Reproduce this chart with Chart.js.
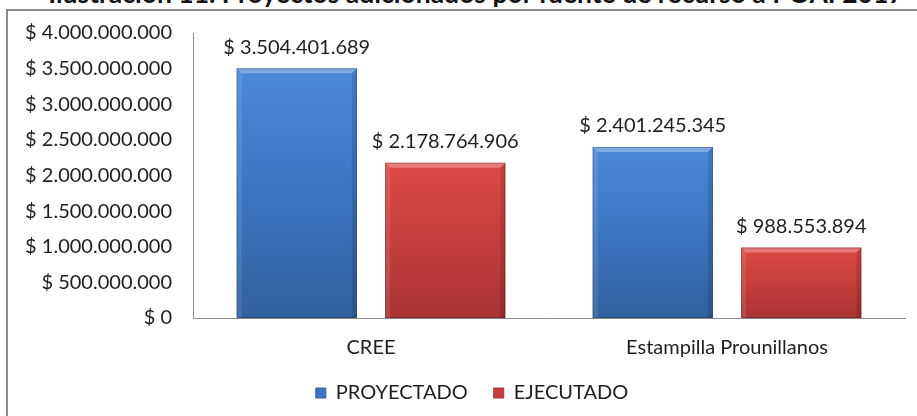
<!DOCTYPE html>
<html>
<head>
<meta charset="utf-8">
<script src="https://cdn.jsdelivr.net/npm/chart.js@4.4.1/dist/chart.umd.min.js"></script>
<style>
  html, body { margin: 0; padding: 0; background: #fff; overflow: hidden; }
  #wrap { position: relative; width: 917px; height: 416px; overflow: hidden; }
  #titulo {
    position: absolute; left: 0; width: 952px; top: -20px; text-align: center;
    font: bold 26.5px/26.5px Lato, sans-serif; color: #111; white-space: nowrap;
  }
  #marco {
    position: absolute; left: 6px; top: 9px; width: 960px; height: 460px;
    border: 2px solid #8a8a8a; box-sizing: border-box;
  }
  #lienzo { position: absolute; left: 0; top: 0; }
</style>
</head>
<body>
<div id="wrap">
  <div id="titulo">Ilustración 11. Proyectos adicionados por fuente de recurso a POAI 2017</div>
  <div id="marco"></div>
  <canvas id="lienzo" width="917" height="416"></canvas>
</div>
<script>
// datos
const categorias = ['CREE', 'Estampilla Prounillanos'];
const proyectado = [3504401689, 2401245345];
const ejecutado = [2178764906, 988553894];
const nombresSeries = ['PROYECTADO', 'EJECUTADO'];
const ejeMax = 4000000000;
const ejePaso = 500000000;

// colores de cada serie: claro, medio, oscuro
const coloresAzul = ['#4b8ad8', '#3d75c0', '#32609f'];
const coloresRojo = ['#dd4a46', '#c63e3b', '#a83433'];

function pesos(n) {
  return '$ ' + Math.round(n).toString().replace(/\B(?=(\d{3})+(?!\d))/g, '.');
}

// degradado vertical por barra, calculado con la escala y
function rellenoBarra(c, col) {
  const chart = c.chart;
  if (!chart.chartArea || c.type !== 'data') return col[1];
  const y = chart.scales.y;
  const arriba = y.getPixelForValue(c.raw);
  const abajo = y.getPixelForValue(0);
  const g = chart.ctx.createLinearGradient(0, arriba, 0, abajo);
  g.addColorStop(0, col[0]);
  g.addColorStop(0.5, col[1]);
  g.addColorStop(1, col[2]);
  return g;
}

// bisel suave en los bordes de cada barra
const biselPlugin = {
  id: 'bisel',
  afterDatasetsDraw(chart) {
    const ctx = chart.ctx;
    chart.data.datasets.forEach((ds, i) => {
      chart.getDatasetMeta(i).data.forEach(bar => {
        const l = bar.x - bar.width / 2, r = bar.x + bar.width / 2;
        const t = bar.y, b = bar.base, k = 5;
        ctx.save();
        ctx.fillStyle = 'rgba(255,255,255,0.28)';
        ctx.beginPath();
        ctx.moveTo(l, t); ctx.lineTo(r, t); ctx.lineTo(r - k, t + k); ctx.lineTo(l + k, t + k);
        ctx.closePath(); ctx.fill();
        ctx.fillStyle = 'rgba(255,255,255,0.10)';
        ctx.beginPath();
        ctx.moveTo(l, t); ctx.lineTo(l + k, t + k); ctx.lineTo(l + k, b); ctx.lineTo(l, b);
        ctx.closePath(); ctx.fill();
        ctx.fillStyle = 'rgba(0,0,0,0.12)';
        ctx.beginPath();
        ctx.moveTo(r, t); ctx.lineTo(r - k, t + k); ctx.lineTo(r - k, b); ctx.lineTo(r, b);
        ctx.closePath(); ctx.fill();
        ctx.strokeStyle = 'rgba(0,0,0,0.25)';
        ctx.lineWidth = 1;
        ctx.strokeRect(l + 0.5, t + 0.5, bar.width - 1, b - t - 1);
        ctx.restore();
      });
    });
  }
};

// etiquetas de valor sobre cada barra
const etiquetasPlugin = {
  id: 'etiquetas',
  afterDatasetsDraw(chart) {
    const ctx = chart.ctx;
    ctx.save();
    ctx.font = '20px Lato, sans-serif';
    ctx.fillStyle = '#1e1e1e';
    ctx.textAlign = 'center';
    ctx.textBaseline = 'middle';
    chart.data.datasets.forEach((ds, i) => {
      chart.getDatasetMeta(i).data.forEach((bar, j) => {
        ctx.fillText(pesos(ds.data[j]), bar.x, bar.y - 21);
      });
    });
    ctx.restore();
  }
};

// la leyenda del original queda un poco a la derecha del centro
const moverLeyenda = {
  id: 'moverLeyenda',
  afterLayout(chart) {
    if (chart.legend) {
      chart.legend.left += 16;
      chart.legend.right += 16;
    }
  }
};

new Chart(document.getElementById('lienzo'), {
  type: 'bar',
  data: {
    labels: categorias,
    datasets: [{
      label: nombresSeries[0],
      data: proyectado,
      backgroundColor: c => rellenoBarra(c, coloresAzul),
      categoryPercentage: 0.834,
      barPercentage: 0.81
    }, {
      label: nombresSeries[1],
      data: ejecutado,
      backgroundColor: c => rellenoBarra(c, coloresRojo),
      categoryPercentage: 0.834,
      barPercentage: 0.81
    }]
  },
  options: {
    responsive: false,
    animation: false,
    layout: { padding: { left: 7, right: 12, top: 33, bottom: 3 } },
    scales: {
      y: {
        min: 0,
        max: ejeMax,
        ticks: {
          stepSize: ejePaso,
          padding: 21,
          color: '#1e1e1e',
          font: { family: 'Lato, sans-serif', size: 20 },
          callback: v => pesos(v)
        },
        grid: { display: false, drawTicks: false },
        border: { display: true, color: '#8c8c8c', width: 1 },
        afterFit: s => { s.width = 186; }
      },
      x: {
        ticks: {
          padding: 18,
          color: '#1e1e1e',
          font: { family: 'Lato, sans-serif', size: 20 }
        },
        grid: { display: false, drawTicks: false },
        border: { display: true, color: '#8c8c8c', width: 1 },
        afterFit: s => { s.height = 39; }
      }
    },
    plugins: {
      legend: {
        position: 'bottom',
        labels: {
          boxWidth: 10,
          boxHeight: 10,
          padding: 26,
          color: '#1e1e1e',
          font: { family: 'Lato, sans-serif', size: 20 },
          generateLabels: () => nombresSeries.map((n, i) => ({
            text: n,
            fillStyle: [coloresAzul, coloresRojo][i][1],
            strokeStyle: [coloresAzul, coloresRojo][i][2],
            lineWidth: 1,
            fontColor: '#1e1e1e',
            hidden: false,
            datasetIndex: i
          }))
        }
      },
      tooltip: { enabled: false }
    }
  },
  plugins: [biselPlugin, etiquetasPlugin, moverLeyenda]
});
</script>
</body>
</html>
